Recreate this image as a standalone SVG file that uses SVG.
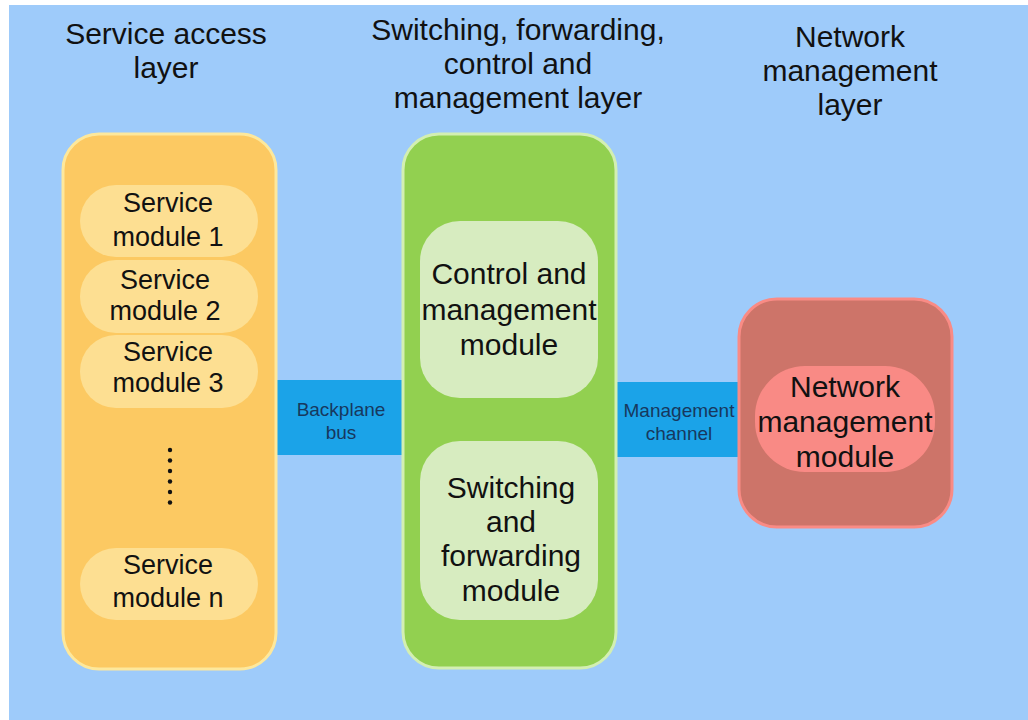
<svg xmlns="http://www.w3.org/2000/svg" width="1028" height="720" viewBox="0 0 1028 720">
<style>
.t{font-family:"Liberation Sans",Arial,sans-serif;fill:#111;text-anchor:middle}
.h{font-size:30px}
.m{font-size:27px}
.b{font-size:30px}
.s{font-size:19px;fill:#17385e}
</style>
<rect x="0" y="0" width="1028" height="720" fill="#ffffff"/>
<rect x="9" y="5" width="1019" height="715" fill="#9ecbfa"/>
<g id="titles">
<text class="t h" x="166" y="44">Service access</text>
<text class="t h" x="166" y="78">layer</text>
<text class="t h" x="518" y="40">Switching, forwarding,</text>
<text class="t h" x="518" y="74">control and</text>
<text class="t h" x="518" y="108">management layer</text>
<text class="t h" x="850" y="47">Network</text>
<text class="t h" x="850" y="81">management</text>
<text class="t h" x="850" y="115">layer</text>
</g>
<g id="connectors">
<g id="backplane-bus">
<rect x="276" y="380" width="128" height="75" fill="#1ba3e8"/>
<text class="t s" x="341" y="416">Backplane</text>
<text class="t s" x="341" y="439">bus</text>
</g>
<g id="management-channel">
<rect x="616" y="382" width="124" height="75" fill="#1ba3e8"/>
<text class="t s" x="679" y="417">Management</text>
<text class="t s" x="679" y="440">channel</text>
</g>
<g id="arrow">
<line x1="509" y1="412" x2="509" y2="438" stroke="#111" stroke-width="2"/>
<polygon points="509,392 501,414 517,414" fill="#111"/>
<polygon points="509,458 501,436 517,436" fill="#111"/>
</g>
</g>
<g id="service-access-layer">
<rect x="63" y="134" width="213" height="535" rx="36" fill="#fcc962" stroke="#fde89c" stroke-width="3"/>
</g>
<g id="service-module-1">
<rect x="80" y="185" width="178" height="72" rx="36" fill="#fddf92"/>
<text class="t m" x="168" y="212">Service</text>
<text class="t m" x="168" y="246">module 1</text>
</g>
<g id="service-module-2">
<rect x="80" y="260" width="178" height="73" rx="36" fill="#fddf92"/>
<text class="t m" x="165" y="289">Service</text>
<text class="t m" x="165" y="320">module 2</text>
</g>
<g id="service-module-3">
<rect x="80" y="335" width="178" height="73" rx="36" fill="#fddf92"/>
<text class="t m" x="168" y="361">Service</text>
<text class="t m" x="168" y="392">module 3</text>
</g>
<g id="dots" fill="#111">
<circle cx="170" cy="450" r="2.2"/>
<circle cx="170" cy="460.5" r="2.2"/>
<circle cx="170" cy="471" r="2.2"/>
<circle cx="170" cy="481.5" r="2.2"/>
<circle cx="170" cy="492" r="2.2"/>
<circle cx="170" cy="502.5" r="2.2"/>
</g>
<g id="service-module-n">
<rect x="80" y="548" width="178" height="72" rx="36" fill="#fddf92"/>
<text class="t m" x="168" y="574">Service</text>
<text class="t m" x="168" y="607">module n</text>
</g>
<g id="switching-layer">
<rect x="403" y="134" width="213" height="534" rx="36" fill="#92d050" stroke="#d3efb2" stroke-width="3"/>
</g>
<g id="control-module">
<rect x="420" y="221" width="178" height="177" rx="40" fill="#d7ecc0"/>
<text class="t b" x="509" y="284">Control and</text>
<text class="t b" x="509" y="320">management</text>
<text class="t b" x="509" y="355">module</text>
</g>
<g id="switching-module">
<rect x="420" y="441" width="178" height="179" rx="40" fill="#d7ecc0"/>
<text class="t b" x="511" y="498">Switching</text>
<text class="t b" x="511" y="532">and</text>
<text class="t b" x="511" y="566">forwarding</text>
<text class="t b" x="511" y="601">module</text>
</g>
<g id="network-management-layer">
<rect x="739" y="299" width="213" height="228" rx="38" fill="#cd7469" stroke="#f98b85" stroke-width="3"/>
</g>
<g id="network-management-module">
<rect x="755" y="366" width="180" height="106" rx="50" fill="#f98a85"/>
<text class="t b" x="845" y="397">Network</text>
<text class="t b" x="845" y="432">management</text>
<text class="t b" x="845" y="467">module</text>
</g>
</svg>
